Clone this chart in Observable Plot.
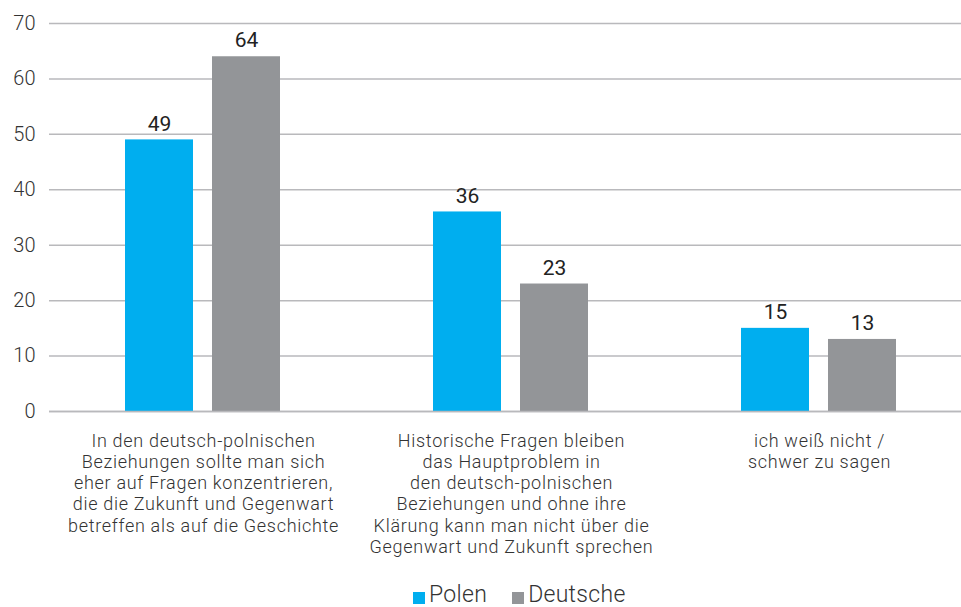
<!DOCTYPE html>
<html>
<head>
<meta charset="utf-8">
<script src="https://cdn.jsdelivr.net/npm/d3@7"></script>
<script src="https://cdn.jsdelivr.net/npm/@observablehq/plot@0.6"></script>
<style>
  html, body { margin: 0; padding: 0; background: #fff; overflow: hidden; }
  body { width: 961px; height: 607px; font-family: Roboto, Lato, sans-serif; }
  #legend { display: flex; align-items: center; padding-left: 413px; height: 24px; margin-top: 9px; font-size: 23px; font-weight: 300; color: #333; line-height: 24px; letter-spacing: 0.3px; }
  #legend .item { display: flex; align-items: center; margin-right: 25px; }
  #legend .sw { width: 12px; height: 12px; margin-right: 4px; margin-top: 5px; }
  #chart svg g[aria-label="fx-axis tick label"] text { letter-spacing: 0.7px; }
</style>
</head>
<body>
<div id="chart"></div>
<div id="legend"></div>
<script>
const categories = [
  "In den deutsch-polnischen\nBeziehungen sollte man sich\neher auf Fragen konzentrieren,\ndie die Zukunft und Gegenwart\nbetreffen als auf die Geschichte",
  "Historische Fragen bleiben\ndas Hauptproblem in\nden deutsch-polnischen\nBeziehungen und ohne ihre\nKlärung kann man nicht über die\nGegenwart und Zukunft sprechen",
  "ich weiß nicht /\nschwer zu sagen"
];
const series = ["Polen", "Deutsche"];
const polen = [49, 36, 15];
const deutsche = [64, 23, 13];
const colors = ["#00aeef", "#939598"];
const yTicks = [0, 10, 20, 30, 40, 50, 60, 70];

const data = categories.flatMap((c, i) => [
  {cat: c, series: "Polen", value: polen[i]},
  {cat: c, series: "Deutsche", value: deutsche[i]}
]);

const chart = Plot.plot({
  width: 961,
  height: 574,
  marginLeft: 48,
  marginRight: -12.5,
  marginTop: 23,
  marginBottom: 163,
  style: {fontFamily: "Roboto, Lato, sans-serif", background: "#fff"},
  fx: {domain: categories, padding: 0, axis: null},
  x: {domain: series, axis: null, paddingInner: 0.216, paddingOuter: 0.861},
  y: {domain: [0, 70], axis: null},
  color: {domain: series, range: colors},
  marks: [
    Plot.gridY(yTicks, {stroke: "#b9b9bc", strokeOpacity: 1, strokeWidth: 1.5}),
    Plot.axisY({ticks: yTicks, tickSize: 0, tickPadding: 14, fontSize: 20, fontWeight: 300, color: "#333", label: null}),
    Plot.axisFx({anchor: "bottom", tickSize: 0, tickPadding: 20, fontSize: 18, fontWeight: 300, lineHeight: 1.18, color: "#333", label: null}),
    Plot.barY(data, {fx: "cat", x: "series", y: "value", fill: "series"}),
    Plot.ruleY([0], {stroke: "#b9b9bc", strokeWidth: 1.5}),
    Plot.text(data, {fx: "cat", x: "series", y: "value", text: d => String(d.value), dy: -16, fontSize: 21, fill: "#222"})
  ]
});
document.getElementById("chart").appendChild(chart);

const legend = document.getElementById("legend");
series.forEach((s, i) => {
  const item = document.createElement("div");
  item.className = "item";
  const sw = document.createElement("span");
  sw.className = "sw";
  sw.style.background = colors[i];
  const label = document.createElement("span");
  label.textContent = s;
  item.appendChild(sw);
  item.appendChild(label);
  legend.appendChild(item);
});
</script>
</body>
</html>
